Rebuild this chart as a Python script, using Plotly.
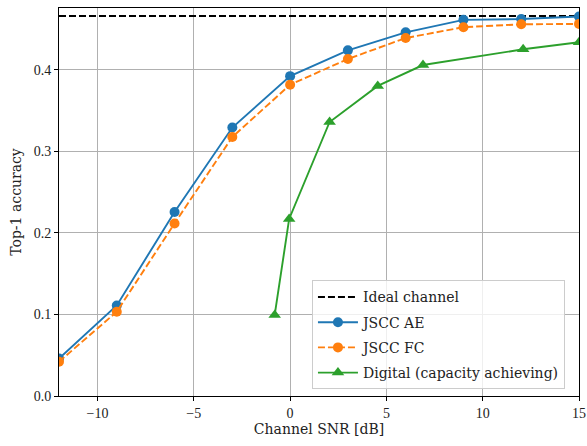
import plotly.graph_objects as go

snr_jscc = [-12, -9, -6, -3, 0, 3, 6, 9, 12, 15]
acc_ae = [0.046, 0.111, 0.2255, 0.329, 0.392, 0.4236, 0.4457, 0.461, 0.462, 0.465]
acc_fc = [0.042, 0.1033, 0.2115, 0.3174, 0.3815, 0.413, 0.4387, 0.452, 0.4555, 0.456]
snr_digital = [-0.8, -0.05, 2.05, 4.55, 6.9, 12.1, 15]
acc_digital = [0.0993, 0.217, 0.3358, 0.38, 0.4056, 0.4249, 0.4335]
ideal_x = [-12, 15]
ideal_acc = 0.4657

blue = "#1f77b4"
orange = "#ff7f0e"
green = "#2ca02c"
tick_font = "Liberation Serif, serif"
text_font = "DejaVu Serif, serif"

fig = go.Figure()
fig.add_trace(go.Scatter(x=ideal_x, y=[ideal_acc, ideal_acc], mode="lines",
                         name="Ideal channel", legendgroup="a",
                         line=dict(color="black", width=1.9, dash="7px,3px")))
fig.add_trace(go.Scatter(x=snr_jscc, y=acc_ae, mode="lines+markers", name="JSCC AE",
                         legendgroup="b",
                         line=dict(color=blue, width=1.9),
                         marker=dict(symbol="circle", size=10, color=blue)))
fig.add_trace(go.Scatter(x=snr_jscc, y=acc_fc, mode="lines+markers", name="JSCC FC",
                         legendgroup="c",
                         line=dict(color=orange, width=1.9, dash="7px,3px"),
                         marker=dict(symbol="circle", size=10, color=orange)))
fig.add_trace(go.Scatter(x=snr_digital, y=acc_digital, mode="lines+markers",
                         name="Digital (capacity achieving)", legendgroup="d",
                         line=dict(color=green, width=1.9),
                         marker=dict(symbol="triangle-up", size=11, color=green)))

axis_common = dict(showgrid=True, gridcolor="#b0b0b0", gridwidth=0.8,
                   showline=True, linecolor="black", linewidth=1, mirror=True,
                   ticks="outside", ticklen=4, tickcolor="black", zeroline=False,
                   ticklabeloverflow="allow", automargin=False,
                   tickfont=dict(family=tick_font, size=14, color="#222"))

fig.update_xaxes(range=[-12, 15], tickvals=[-10, -5, 0, 5, 10, 15],
                 ticktext=["\u221210", "\u22125", "0", "5", "10", "15"],
                 title=dict(text="Channel SNR [dB]", font=dict(family=text_font, size=14, color="#222"), standoff=4),
                 **axis_common)
fig.update_yaxes(range=[0, 0.4755], tickvals=[0, 0.1, 0.2, 0.3, 0.4],
                 ticktext=["0.0", "0.1", "0.2", "0.3", "0.4"],
                 title=dict(text="Top-1 accuracy", font=dict(family=text_font, size=14, color="#222"), standoff=8),
                 **axis_common)

fig.update_layout(
    width=587, height=446,
    margin=dict(l=59, r=8, t=8, b=50),
    plot_bgcolor="white", paper_bgcolor="white",
    showlegend=True,
    legend=dict(x=0.973, y=0.017, xanchor="right", yanchor="bottom",
                bgcolor="rgba(255,255,255,0.8)", bordercolor="#cccccc", borderwidth=1,
                font=dict(family=text_font, size=14, color="#222"),
                tracegroupgap=4, itemwidth=40),
)

fig.write_html("out.html", config={"displayModeBar": False},
               post_script="document.body.style.margin='0px';")
